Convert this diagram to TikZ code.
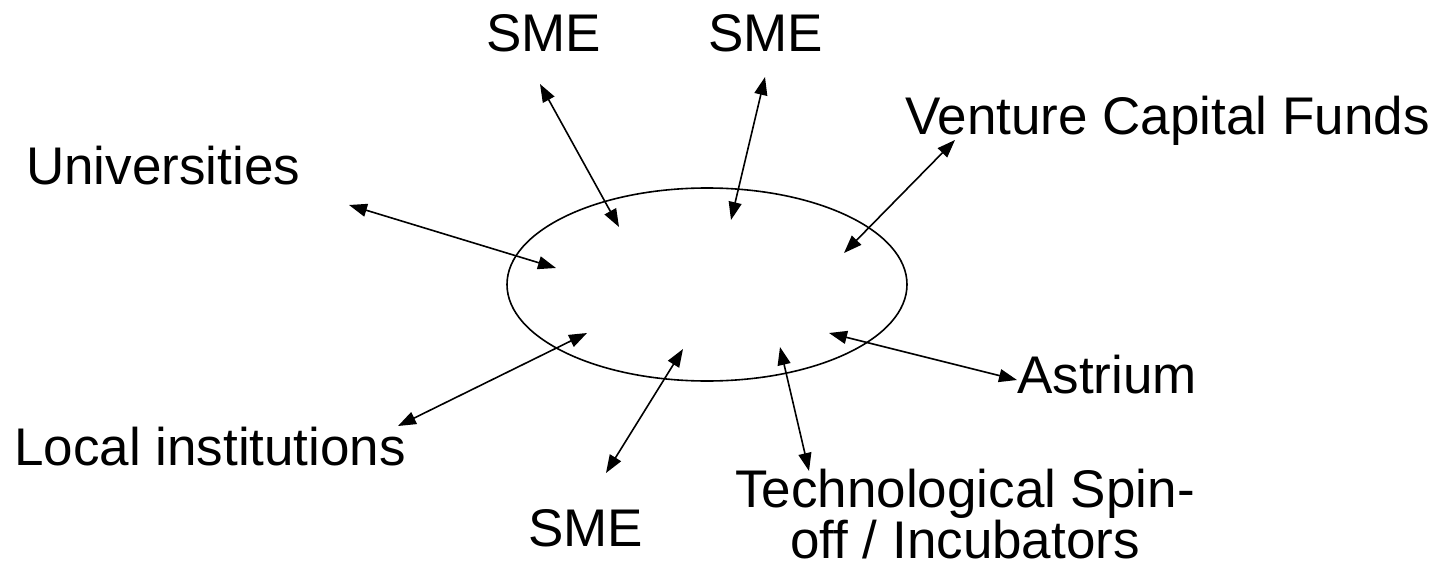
\documentclass[tikz,border=0pt]{standalone}
\usepackage{fontspec}
\setmainfont{Liberation Sans}
\usetikzlibrary{arrows.meta,shapes.geometric}
\tikzset{
  lbl/.style={font=\fontsize{53}{48}\selectfont, inner sep=0pt, anchor=base west},
  link/.style={line width=1.6pt, {Triangle[length=18pt,width=13pt]}-{Triangle[length=18pt,width=13pt]}},
  hubshape/.style={draw, line width=1.6pt, ellipse, minimum width=400pt, minimum height=193pt, inner sep=0pt}
}
\begin{document}
\begin{tikzpicture}[x=1pt,y=-1pt]
\useasboundingbox (0,0) rectangle (1441,575);
\node[hubshape] (hub) at (707,284.5) {};
% labels
\node[lbl] (smeA) at (486,52) {SME};
\node[lbl] (smeB) at (708,52) {SME};
\node[lbl] (vcf) at (905,135) {Venture Capital Funds};
\node[lbl] (uni) at (26,185) {Universities};
\node[lbl] (astr) at (1017,393) {Astrium};
\node[lbl] (loc) at (14,465) {Local institutions};
\node[lbl] (smeC) at (528,546) {SME};
\node[lbl, align=center, anchor=base] (tech) at (965,558) {Technological Spin-\\off / Incubators};
% connector end points
\coordinate (uniE) at (349,205);
\coordinate (uniI) at (556,268);
\coordinate (smeAE) at (540,84);
\coordinate (smeAI) at (619,227);
\coordinate (smeBE) at (765,77);
\coordinate (smeBI) at (731,220);
\coordinate (vcfE) at (955,140);
\coordinate (vcfI) at (844,253);
\coordinate (locE) at (398,426);
\coordinate (locI) at (587,333);
\coordinate (smeCE) at (606,473);
\coordinate (smeCI) at (683,349);
\coordinate (techE) at (809,471);
\coordinate (techI) at (780,347);
\coordinate (astrE) at (1017,380);
\coordinate (astrI) at (829,333);
% connectors
\draw[link] (uniE) -- (uniI);
\draw[link] (smeAE) -- (smeAI);
\draw[link] (smeBE) -- (smeBI);
\draw[link] (vcfE) -- (vcfI);
\draw[link] (locE) -- (locI);
\draw[link] (smeCE) -- (smeCI);
\draw[link] (techE) -- (techI);
\draw[link] (astrE) -- (astrI);
\end{tikzpicture}
\end{document}
